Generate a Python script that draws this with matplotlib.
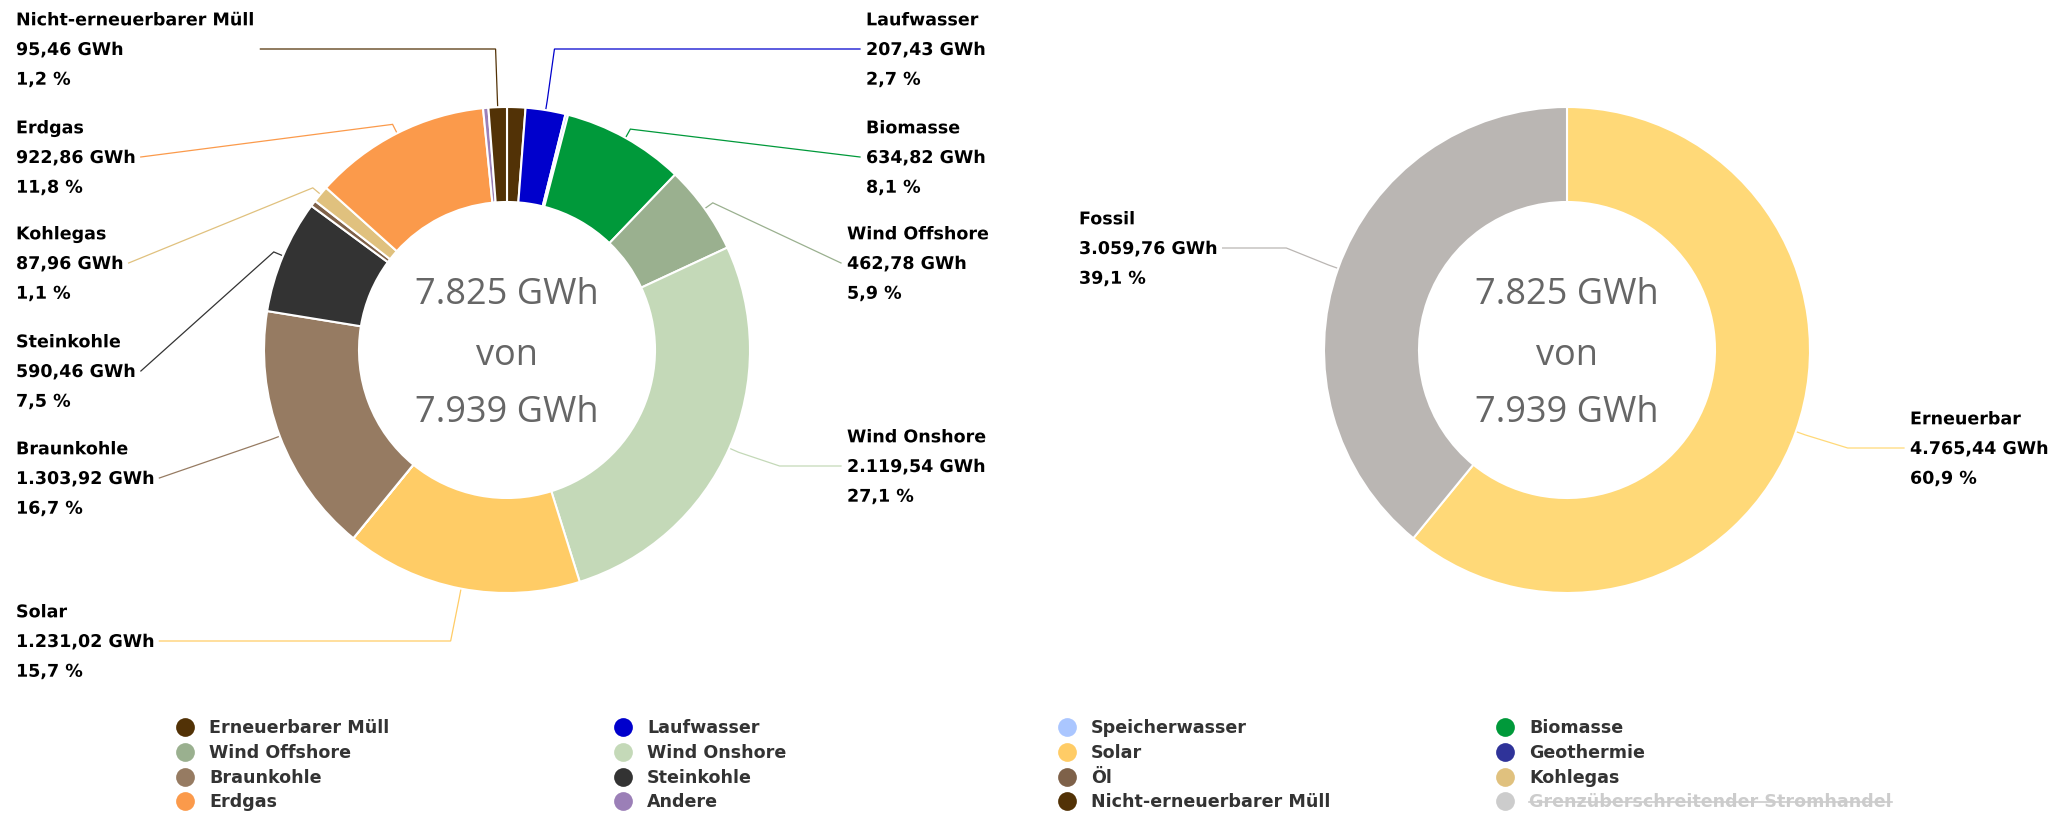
import numpy as np
import matplotlib
matplotlib.use('Agg')
import matplotlib.pyplot as plt
import matplotlib.patheffects as pe

W, H = 2071, 815

#---------------------------- data ----------------------------#
sources = ['Erneuerbarer Müll', 'Laufwasser', 'Speicherwasser', 'Biomasse',
           'Wind Offshore', 'Wind Onshore', 'Solar', 'Geothermie',
           'Braunkohle', 'Steinkohle', 'Öl', 'Kohlegas', 'Erdgas',
           'Andere', 'Nicht-erneuerbarer Müll']
gwh = [95.46, 207.43, 14.0, 634.82,
       462.78, 2119.54, 1231.02, 0.39,
       1303.92, 590.46, 31.5, 87.96, 922.86,
       27.6, 95.46]
colors = ['#523206', '#0000cc', '#aac6ff', '#00993a',
          '#9ab08f', '#c4d9b8', '#ffcc66', '#2f3399',
          '#967b62', '#333333', '#7e6149', '#e0c17e', '#fb9a4b',
          '#9b7fb7', '#523206']

groups = ['Erneuerbar', 'Fossil']
group_gwh = [4765.44, 3059.76]
group_colors = ['#ffd978', '#bab6b3']

# hidden series (greyed out in the legend)
hidden_name = 'Grenzüberschreitender Stromhandel'
hidden_gwh = 114
hidden_color = '#cccccc'

#--------------------------- layout ---------------------------#
# label block position: x of text, y of the middle (value) line, in pixels
label_pos = {
    'Nicht-erneuerbarer Müll': (16, 49),
    'Erdgas': (16, 157),
    'Kohlegas': (16, 263),
    'Steinkohle': (16, 371),
    'Braunkohle': (16, 478),
    'Solar': (16, 641),
    'Laufwasser': (866, 49),
    'Biomasse': (866, 157),
    'Wind Offshore': (847, 263),
    'Wind Onshore': (847, 466),
}
group_label_pos = {'Fossil': (1079, 248), 'Erneuerbar': (1910, 448)}

LEFT_C = (507, 350)
RIGHT_C = (1567, 350)
R_OUT = 243
RING = 95
LINE = 29.7

LABEL_FONT = dict(family='DejaVu Sans', weight='bold', size=12.6)
CENTER_FONT = dict(family='Open Sans', size=26, color='#666666')


def Y(y):
    return H - y


def de_num(v, dec=2):
    s = f'{v:,.{dec}f}'
    return s.replace(',', 'X').replace('.', ',').replace('X', '.')


def draw_donut(ax, values, cols, center):
    ax.pie(values, colors=cols, startangle=90, counterclock=False,
           radius=R_OUT, center=(center[0], Y(center[1])), frame=True,
           wedgeprops=dict(width=RING, edgecolor='white', linewidth=1.5))


def mid_angles(values):
    v = np.asarray(values, dtype=float)
    cum = np.cumsum(v) - v / 2
    return 360 * cum / v.sum()


def draw_label(ax, renderer, name, value, total, pos, theta, center, color):
    x, yc = pos
    lines = [name, de_num(value) + ' GWh', de_num(100 * value / total, 1) + ' %']
    right_edge = x
    for i, s in enumerate(lines):
        t = ax.text(x, Y(yc + 6 + (i - 1) * LINE), s, ha='left', va='baseline',
                    color='black', **LABEL_FONT)
        t.set_path_effects([pe.withStroke(linewidth=1.2, foreground='white')])
        right_edge = max(right_edge, t.get_window_extent(renderer).x1)
    cx, cy = center
    t = np.radians(theta)
    base = (cx + R_OUT * np.sin(t), cy - R_OUT * np.cos(t))
    brk = (cx + (R_OUT + 10) * np.sin(t), cy - (R_OUT + 10) * np.cos(t))
    far = (cx + (R_OUT + 55) * np.sin(t), cy - (R_OUT + 55) * np.cos(t))
    start = (right_edge + 5, yc) if x < cx else (x - 6, yc)
    pts = [start]
    if abs(far[1] - yc) < 15:
        pts.append((far[0], yc))
    pts += [brk, base]
    ax.plot([p[0] for p in pts], [Y(p[1]) for p in pts], color=color,
            lw=0.9, solid_joinstyle='miter', zorder=0)


def center_text(ax, center, total_vis, total_all):
    cx, cy = center
    for dy, s in [(-46, de_num(total_vis, 0) + ' GWh'), (15, 'von'),
                  (72, de_num(total_all, 0) + ' GWh')]:
        ax.text(cx, Y(cy + dy), s, ha='center', va='baseline', **CENTER_FONT)


#---------------------------- plot ----------------------------#
fig = plt.figure(figsize=(W / 100, H / 100), dpi=100)
ax = fig.add_axes([0, 0, 1, 1])
renderer = fig.canvas.get_renderer()

total = sum(gwh)
draw_donut(ax, gwh, colors, LEFT_C)
draw_donut(ax, group_gwh, group_colors, RIGHT_C)
ax.set_xlim(0, W)
ax.set_ylim(0, H)
ax.axis('off')

angles = mid_angles(gwh)
for name, v, col, th in zip(sources, gwh, colors, angles):
    if name in label_pos:
        draw_label(ax, renderer, name, v, total, label_pos[name], th, LEFT_C, col)

g_angles = mid_angles(group_gwh)
for name, v, col, th in zip(groups, group_gwh, group_colors, g_angles):
    draw_label(ax, renderer, name, v, sum(group_gwh), group_label_pos[name], th, RIGHT_C, col)

center_text(ax, LEFT_C, total, total + hidden_gwh)
center_text(ax, RIGHT_C, sum(group_gwh), total + hidden_gwh)

# legend, row-major, 4 columns
leg_names = sources + [hidden_name]
leg_cols = colors + [hidden_color]
col_x = [209, 647, 1091, 1529]
row_base = [733, 758, 783, 807]
for i, (name, col) in enumerate(zip(leg_names, leg_cols)):
    r, c = divmod(i, 4)
    tx, by = col_x[c], row_base[r]
    ax.plot([tx - 24], [Y(by - 6)], 'o', ms=13.5, color=col, mec='none')
    hidden = name == hidden_name
    t = ax.text(tx, Y(by), name, ha='left', va='baseline',
                color='#cccccc' if hidden else '#333333', **LABEL_FONT)
    if hidden:
        bb = t.get_window_extent(renderer)
        ax.plot([bb.x0, bb.x1], [Y(by - 5), Y(by - 5)], color='#cccccc', lw=1.2)

fig.savefig('out.png', dpi=100)
